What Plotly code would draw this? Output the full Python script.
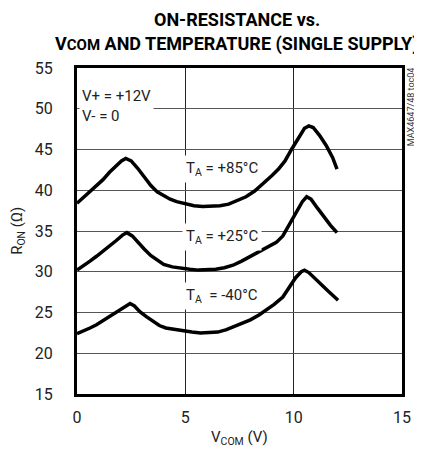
import plotly.graph_objects as go

FONT = "Roboto, Liberation Sans, sans-serif"

# V_COM (V) and R_ON (ohm)
v85 = [0.0, 0.3, 0.6, 0.9, 1.2, 1.5, 1.8, 2.05, 2.25, 2.5, 2.8, 3.1, 3.4, 3.7, 4.0, 4.3, 4.6, 5.0, 5.4, 5.8,
       6.2, 6.6, 7.0, 7.4, 7.8, 8.2, 8.6, 9.0, 9.3, 9.6, 9.9, 10.2, 10.5, 10.7, 10.9, 11.2, 11.5, 11.8, 12.0]
r85 = [38.4, 39.1, 39.8, 40.6, 41.3, 42.2, 42.9, 43.6, 43.9, 43.6, 42.7, 41.6, 40.6, 39.8, 39.3, 38.9, 38.6, 38.3, 38.1, 38.0,
       38.0, 38.1, 38.3, 38.7, 39.2, 39.9, 40.8, 41.8, 42.6, 43.6, 45.0, 46.4, 47.6, 47.9, 47.7, 46.7, 45.5, 44.0, 42.6]

v25 = [0.0, 0.3, 0.6, 0.9, 1.2, 1.5, 1.8, 2.1, 2.3, 2.55, 2.8, 3.1, 3.4, 3.7, 4.0, 4.4, 4.8, 5.2, 5.6, 6.0,
       6.4, 6.8, 7.2, 7.6, 8.0, 8.4, 8.8, 9.2, 9.5, 9.8, 10.1, 10.4, 10.6, 10.8, 11.1, 11.4, 11.7, 12.0]
r25 = [30.2, 30.7, 31.3, 31.9, 32.5, 33.1, 33.8, 34.5, 34.8, 34.4, 33.6, 32.8, 32.0, 31.4, 30.9, 30.6, 30.4, 30.3, 30.2, 30.2,
       30.3, 30.5, 30.8, 31.3, 31.9, 32.4, 33.0, 33.6, 34.4, 35.8, 37.3, 38.6, 39.2, 38.9, 37.8, 36.7, 35.7, 34.8]

vm40 = [0.0, 0.3, 0.6, 0.9, 1.2, 1.5, 1.8, 2.1, 2.3, 2.45, 2.65, 2.9, 3.2, 3.5, 3.8, 4.1, 4.5, 4.9, 5.3, 5.7,
        6.1, 6.5, 6.9, 7.2, 7.6, 8.0, 8.4, 8.75, 9.1, 9.5, 9.8, 10.1, 10.35, 10.5, 10.7, 11.0, 11.3, 11.6, 12.05]
rm40 = [22.4, 22.7, 23.1, 23.5, 24.0, 24.5, 25.0, 25.5, 25.9, 26.1, 25.8, 25.1, 24.5, 23.9, 23.4, 23.1, 22.9, 22.7, 22.6, 22.5,
        22.5, 22.6, 22.9, 23.2, 23.6, 24.1, 24.7, 25.3, 26.0, 26.9, 28.2, 29.3, 30.0, 30.2, 29.9, 29.1, 28.3, 27.6, 26.5]

x_ticks = [0, 5, 10, 15]
y_ticks = [15, 20, 25, 30, 35, 40, 45, 50, 55]

fig = go.Figure()
for vx, ry in [(v85, r85), (v25, r25), (vm40, rm40)]:
    fig.add_trace(go.Scatter(x=vx, y=ry, mode="lines",
                             line=dict(color="black", width=3.5), showlegend=False, hoverinfo="skip"))

lab_font = dict(family=FONT, size=15, color="#222")
fig.add_annotation(x=0.1, y=53.0, xref="x", yref="y", xanchor="left", yanchor="top",
                   text="V+ = +12V<br>V- = 0", align="left", showarrow=False,
                   bgcolor="white", borderpad=2, font=lab_font)
fig.add_annotation(x=4.85, y=42.6, xanchor="left", yanchor="middle",
                   text="T<sub>A</sub> = +85°C", showarrow=False, bgcolor="white", borderpad=3, font=lab_font)
fig.add_annotation(x=4.85, y=34.3, xanchor="left", yanchor="middle",
                   text="T<sub>A</sub> = +25°C", showarrow=False, bgcolor="white", borderpad=3, font=lab_font)
fig.add_annotation(x=4.85, y=27.0, xanchor="left", yanchor="middle",
                   text="T<sub>A</sub>\u00a0\u00a0=\u00a0-40°C", showarrow=False, bgcolor="white", borderpad=3, font=lab_font)

# title (two lines)
fig.add_annotation(x=0.492, y=1.150, xref="paper", yref="paper", yanchor="middle", xanchor="center",
                   text="<b>ON-RESISTANCE vs.</b>", showarrow=False,
                   font=dict(family=FONT, size=18, color="black"))
fig.add_annotation(x=0.492, y=1.074, xref="paper", yref="paper", yanchor="middle", xanchor="center",
                   text="<b>V<span style='font-size:15px'>COM</span> AND TEMPERATURE (SINGLE SUPPLY)</b>",
                   showarrow=False, font=dict(family=FONT, size=18, color="black"))

# axis titles
fig.add_annotation(x=-0.182, y=0.5, xref="paper", yref="paper", xanchor="center", yanchor="middle",
                   textangle=-90, text="R<sub>ON</sub> (Ω)", showarrow=False,
                   font=dict(family=FONT, size=15, color="#222"))
fig.add_annotation(x=0.5, y=-0.135, xref="paper", yref="paper", xanchor="center", yanchor="middle",
                   text="V<sub>COM</sub> (V)", showarrow=False, font=dict(family=FONT, size=15, color="#222"))
# side code
fig.add_annotation(x=1.028, y=0.88, xref="paper", yref="paper", xanchor="center", yanchor="middle",
                   textangle=-90, text="MAX4647/48 toc04", showarrow=False,
                   font=dict(family=FONT, size=9, color="#333"))

fig.update_layout(
    width=414, height=445,
    margin=dict(l=69, r=20, t=60, b=59),
    paper_bgcolor="white", plot_bgcolor="white",
    font=dict(family=FONT, size=16, color="#222"),
)
fig.update_xaxes(range=[0, 15], tickvals=x_ticks, ticktext=[str(t) for t in x_ticks],
                 showgrid=True, gridcolor="#222", gridwidth=1, zeroline=False,
                 showline=True, linecolor="black", linewidth=3, mirror=True,
                 ticks="", ticklabelstandoff=7, tickfont=dict(family=FONT, size=16, color="#222"))
fig.update_yaxes(range=[15, 55], tickvals=y_ticks, ticktext=[str(t) for t in y_ticks],
                 showgrid=True, gridcolor="#555", gridwidth=1, zeroline=False,
                 showline=True, linecolor="black", linewidth=3, mirror=True,
                 ticks="", ticklabelstandoff=18, tickfont=dict(family=FONT, size=16, color="#222"))

fig.write_html("out.html")
